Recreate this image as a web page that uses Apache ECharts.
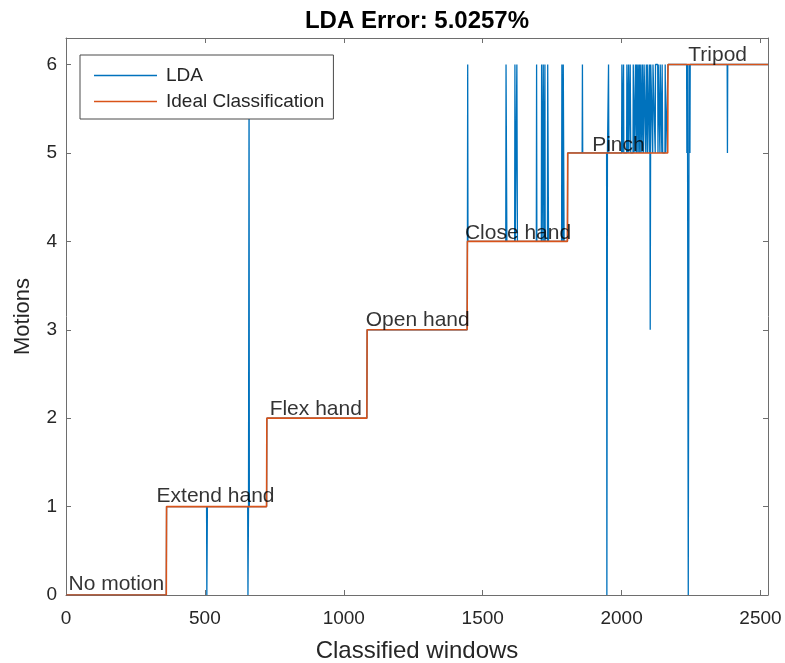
<!DOCTYPE html>
<html>
<head>
<meta charset="utf-8">
<script src="https://cdn.jsdelivr.net/npm/echarts@6/dist/echarts.min.js"></script>
<style>
  html, body { margin: 0; padding: 0; background: #fff; }
  #chart { width: 785px; height: 663px; }
</style>
</head>
<body>
<div id="chart"></div>
<script>
// Motion classes: first window of each class, its label and the label anchor
const classValue = [0, 1, 2, 3, 4, 5, 6];
const classStart = [1, 362, 723, 1084, 1445, 1806, 2167];
const lastWindow = 2527;
const classNames = ['No motion', 'Extend hand', 'Flex hand', 'Open hand', 'Close hand', 'Pinch', 'Tripod'];
const labelX = [9, 326, 733, 1079, 1436, 1894, 2240];
const labelY = [0.12, 1.12, 2.1, 3.11, 4.09, 5.09, 6.1];

// LDA misclassifications: run start window, run length, predicted class
const errStart = [507, 655, 659,
  1446, 1584, 1616, 1623, 1694, 1712, 1718, 1724, 1734, 1785, 1790,
  1859, 1947, 1953, 2001, 2007, 2019, 2025, 2031, 2042, 2050, 2054,
  2059, 2064, 2069, 2075, 2081, 2089, 2094, 2101, 2103, 2105, 2113, 2122, 2132, 2139, 2146, 2157,
  2235, 2240, 2246, 2381];
const errLen = [2, 2, 1,
  1, 3, 1, 2, 1, 2, 2, 1, 3, 4, 3,
  1, 2, 1, 2, 1, 2, 1, 2, 3, 2, 2,
  3, 3, 4, 4, 6, 4, 6, 1, 2, 7, 8, 9, 6, 6, 2, 2,
  2, 3, 1, 1];
const errClass = [0, 0, 6,
  6, 6, 6, 6, 6, 6, 6, 6, 6, 6, 6,
  6, 0, 6, 6, 6, 6, 6, 6, 6, 6, 6,
  6, 6, 6, 6, 6, 6, 6, 6, 3, 6, 6, 6, 6, 6, 6, 6,
  5, 0, 5, 5];

// Axis ranges and ticks
const xMax = lastWindow, xInterval = 500;
const yMax = 6.3, yInterval = 1;

// Ideal classification: a flat segment per class
const classEnd = classStart.map((s, i) => i + 1 < classStart.length ? classStart[i + 1] - 1 : lastWindow);
const idealData = [];
classValue.forEach((v, i) => { idealData.push([classStart[i], v], [classEnd[i], v]); });

// LDA output per window: true class everywhere except the misclassified runs
const lda = [];
for (let w = 1; w <= lastWindow; w++) {
  let c = 0;
  for (let k = 0; k < classStart.length; k++) if (w >= classStart[k]) c = classValue[k];
  lda.push(c);
}
errStart.forEach((s, i) => { for (let j = 0; j < errLen[i]; j++) lda[s - 1 + j] = errClass[i]; });

// Keep only the vertices where the output changes, so each jump is drawn as a sharp spike
const ldaData = [];
for (let i = 0; i < lda.length; i++) {
  const prevDiff = i > 0 && lda[i - 1] !== lda[i];
  const nextDiff = i < lda.length - 1 && lda[i + 1] !== lda[i];
  if (i === 0 || i === lda.length - 1 || prevDiff || nextDiff) ldaData.push([i + 1, lda[i]]);
}

const FONT = 'Liberation Sans, Arial, Helvetica, sans-serif';
const TXT = '#262626';
const AX = '#6e6e6e';

const chart = echarts.init(document.getElementById('chart'), null, { renderer: 'canvas' });

const axisCommon = {
  axisLine: { show: true, onZero: false, lineStyle: { color: AX, width: 1 } },
  axisTick: { show: true, inside: true, length: 5, lineStyle: { color: AX } },
  splitLine: { show: false }
};

chart.setOption({
  animation: false,
  backgroundColor: '#ffffff',
  title: {
    text: 'LDA Error: 5.0257%',
    left: 412, top: 4, textAlign: 'center',
    textStyle: { fontFamily: FONT, fontWeight: 'bold', fontSize: 24, color: '#000' }
  },
  grid: { left: 66, right: 17, top: 38, bottom: 68, containLabel: false, outerBoundsMode: 'none' },
  legend: {
    data: ['LDA', 'Ideal Classification'],
    orient: 'vertical', left: 80, top: 55,
    icon: 'rect', itemWidth: 63, itemHeight: 1.5, itemGap: 7,
    padding: [11, 9, 8, 14],
    backgroundColor: '#fff', borderColor: '#4a4a4a', borderWidth: 1,
    textStyle: { fontFamily: FONT, fontSize: 19, color: TXT, padding: [0, 0, 0, 4] }
  },
  xAxis: [
    Object.assign({
      type: 'value', min: 0, max: xMax, interval: xInterval, position: 'bottom',
      name: 'Classified windows', nameLocation: 'middle', nameGap: 44,
      nameTextStyle: { fontFamily: FONT, fontSize: 24, color: TXT },
      axisLabel: { fontFamily: FONT, fontSize: 19, color: TXT, margin: 14, showMaxLabel: false,
        formatter: v => String(v) }
    }, axisCommon),
    Object.assign({
      type: 'value', min: 0, max: xMax, interval: xInterval, position: 'top',
      axisLabel: { show: false }
    }, axisCommon)
  ],
  yAxis: [
    Object.assign({
      type: 'value', min: 0, max: yMax, interval: yInterval, position: 'left',
      name: 'Motions', nameLocation: 'middle', nameGap: 32,
      nameTextStyle: { fontFamily: FONT, fontSize: 22, color: TXT },
      axisLabel: { fontFamily: FONT, fontSize: 19, color: TXT, margin: 9, showMaxLabel: false,
        formatter: v => String(v) }
    }, axisCommon),
    Object.assign({
      type: 'value', min: 0, max: yMax, interval: yInterval, position: 'right',
      axisLabel: { show: false }
    }, axisCommon)
  ],
  series: [
    {
      name: 'LDA', type: 'line', data: ldaData,
      showSymbol: false, symbol: 'none', sampling: null,
      lineStyle: { color: '#0072BD', width: 1.3 }, itemStyle: { color: '#0072BD' },
      z: 2
    },
    {
      name: 'Ideal Classification', type: 'line', data: idealData,
      showSymbol: false, symbol: 'none',
      lineStyle: { color: '#D95319', width: 1.6 }, itemStyle: { color: '#D95319' },
      z: 3
    },
    {
      name: 'labels', type: 'scatter', symbolSize: 0, silent: true, z: 4,
      data: labelX.map((x, i) => ({ value: [x, labelY[i]], name: classNames[i] })),
      label: {
        show: true, position: 'right', distance: 0,
        formatter: p => p.name,
        fontFamily: FONT, fontSize: 21, color: '#000'
      }
    }
  ]
});
</script>
</body>
</html>
